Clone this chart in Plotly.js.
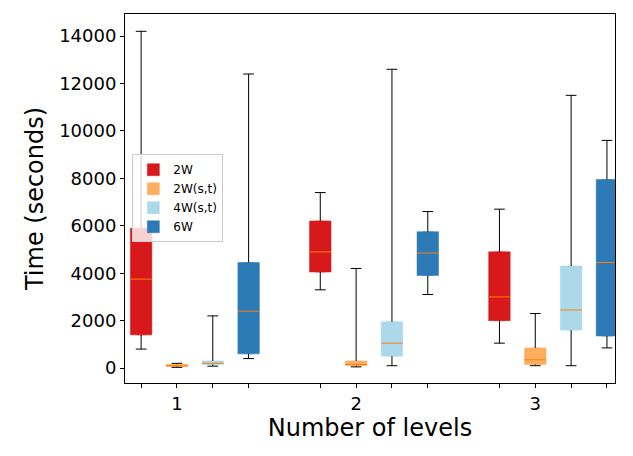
<!DOCTYPE html>
<html><head><meta charset="utf-8">
<script src="https://cdn.plot.ly/plotly-3.0.1.min.js"></script>
<style>body{margin:0}</style></head>
<body><div id="chart" style="width:633px;height:456px"></div>
<script>
const groups = [1, 2, 3];
const seriesNames = ['2W', '2W(s,t)', '4W(s,t)', '6W'];
const seriesColors = ['#d7191c', '#fdae61', '#abd9e9', '#2c7bb6'];
const offsets = [-0.2, 0, 0.2, 0.4];
// per series, per group: [lower, q1, median, q3, upper]
const stats2W  = [[800, 1400, 3750, 5900, 14200], [3300, 4050, 4900, 6200, 7400], [1050, 2000, 3000, 4900, 6700]];
const stats2Wst = [[30, 60, 100, 160, 200], [50, 100, 150, 300, 4200], [100, 150, 350, 850, 2300]];
const stats4Wst = [[80, 150, 200, 300, 2200], [100, 500, 1050, 1950, 12600], [100, 1600, 2450, 4300, 11500]];
const stats6W  = [[400, 600, 2400, 4450, 12400], [3100, 3900, 4850, 5750, 6600], [850, 1350, 4450, 7950, 9600]];
const allStats = [stats2W, stats2Wst, stats4Wst, stats6W];

const halfBox = 0.06, halfCap = 0.03;
let traces = [];
let whiskX = [], whiskY = [], medX = [], medY = [];
allStats.forEach((st, s) => {
    let xs = groups.map(g => g + offsets[s]);
    xs.forEach((x, i) => {
        let [lo, q1, md, q3, hi] = st[i];
        whiskX.push(x, x, null, x, x, null, x - halfCap, x + halfCap, null, x - halfCap, x + halfCap, null);
        whiskY.push(lo, q1, null, q3, hi, null, lo, lo, null, hi, hi, null);
        medX.push(x - halfBox, x + halfBox, null);
        medY.push(md, md, null);
    });
    traces.push({
        type: 'box', name: seriesNames[s], x: xs,
        q1: st.map(v => v[1]), median: st.map(v => v[2]), q3: st.map(v => v[3]),
        lowerfence: st.map(v => v[1]), upperfence: st.map(v => v[3]),
        width: 2 * halfBox, fillcolor: seriesColors[s],
        line: {color: seriesColors[s], width: 0.5}, hoverinfo: 'skip'
    });
});
traces.unshift({type: 'scatter', mode: 'lines', x: whiskX, y: whiskY, line: {color: 'black', width: 1}, showlegend: false, hoverinfo: 'skip'});
traces.push({type: 'scatter', mode: 'lines', x: medX, y: medY, line: {color: '#ff7f0e', width: 1}, showlegend: false, hoverinfo: 'skip'});

let tickvals = [], ticktext = [];
groups.forEach(g => offsets.forEach(o => { tickvals.push(g + o); ticktext.push(o === 0 ? String(g) : ''); }));

Plotly.newPlot('chart', traces, {
    width: 633, height: 456,
    margin: {l: 125, r: 18, t: 14, b: 73},
    paper_bgcolor: 'white', plot_bgcolor: 'white',
    font: {family: 'DejaVu Sans', color: 'black'},
    showlegend: true, boxmode: 'overlay',
    legend: {x: 0.015, y: 0.62, xanchor: 'left', yanchor: 'top', bordercolor: '#ccc', borderwidth: 1, font: {size: 12}, bgcolor: 'rgba(255,255,255,0.8)'},
    xaxis: {range: [0.71, 3.445], tickvals: tickvals, ticktext: ticktext, ticks: 'outside', ticklen: 4, tickcolor: 'black',
        showgrid: false, zeroline: false, showline: true, mirror: true, linecolor: 'black', tickfont: {size: 18},
        title: {text: 'Number of levels', font: {size: 24}, standoff: 6}},
    yaxis: {range: [-630, 14930], dtick: 2000, tickformat: 'd', ticks: 'outside', ticklen: 4, tickcolor: 'black',
        showgrid: false, zeroline: false, showline: true, mirror: true, linecolor: 'black', tickfont: {size: 18},
        title: {text: 'Time (seconds)', font: {size: 24}, standoff: 8}}
}, {displayModeBar: false});
</script></body></html>
